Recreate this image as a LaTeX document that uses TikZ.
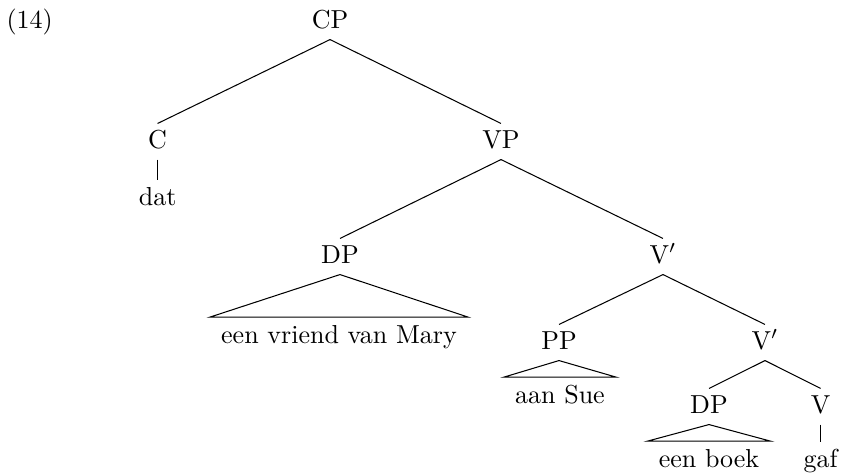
\documentclass[tikz,border=0pt]{standalone}
\begin{document}
\begin{tikzpicture}[x=0.3846pt,y=-0.3846pt,
  lbl/.style={anchor=base,inner xsep=4.2pt,inner ysep=2.3pt,text height=6.94pt,text depth=1.94pt},
  roof/.style={lbl,inner ysep=2.8pt},
  branch/.style={line width=0.4pt}]
\useasboundingbox (0,0) rectangle (844,473);
\node[anchor=base west,inner sep=0pt] (ex) at (6,28) {(14)};
% labels
\node[lbl] (cp) at (330,28) {CP};
\node[lbl] (c) at (157.6,148) {C};
\node[lbl] (vp) at (501,148) {VP};
\node[lbl] (dat) at (157.6,205) {dat};
\node[lbl] (dpa) at (340,263) {DP};
\node[lbl] (vba) at (663,263) {V$'$};
\node[roof] (ra) at (339,343) {een vriend van Mary};
\node[lbl] (pp) at (559,349) {PP};
\node[lbl] (vbb) at (765,349) {V$'$};
\node[roof] (rb) at (560,403) {aan Sue};
\node[lbl] (dpb) at (709,413) {DP};
\node[lbl] (v) at (820.6,413) {V};
\node[roof] (rc) at (709,467) {een boek};
\node[lbl] (gaf) at (820.6,467) {gaf};
% branches
\draw[branch] (cp.south) -- (c.north);
\draw[branch] (cp.south) -- (vp.north);
\draw[branch] (c.south) -- (dat.north);
\draw[branch] (vp.south) -- (dpa.north);
\draw[branch] (vp.south) -- (vba.north);
\draw[branch] (dpa.south) -- (ra.north west) -- (ra.north east) -- cycle;
\draw[branch] (vba.south) -- (pp.north);
\draw[branch] (vba.south) -- (vbb.north);
\draw[branch] (pp.south) -- (rb.north west) -- (rb.north east) -- cycle;
\draw[branch] (vbb.south) -- (dpb.north);
\draw[branch] (vbb.south) -- (v.north);
\draw[branch] (dpb.south) -- (rc.north west) -- (rc.north east) -- cycle;
\draw[branch] (v.south) -- (gaf.north);
\end{tikzpicture}
\end{document}
